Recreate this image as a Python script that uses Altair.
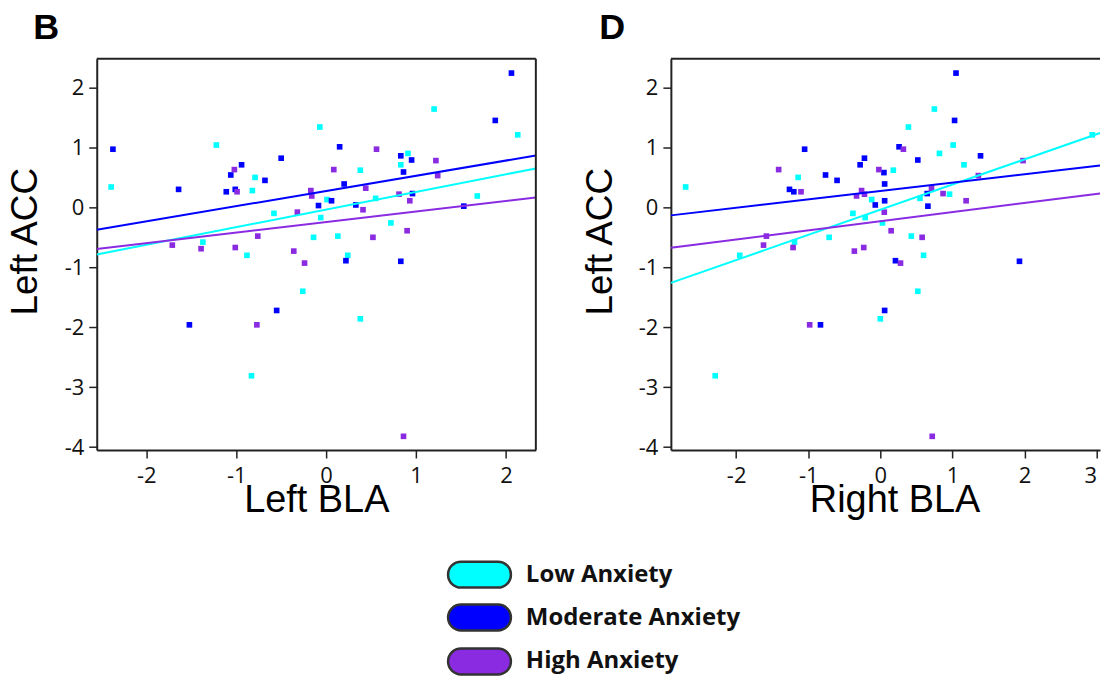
import altair as alt
import pandas as pd

# Anxiety groups and their colours
groups = ["Low Anxiety", "Moderate Anxiety", "High Anxiety"]
palette = ["#00FFFF", "#0000FF", "#8A2BE2"]
panel_letters = ["B", "D"]

# Panel B: Left BLA (x) vs Left ACC (y)
left_low_x = [-2.39, -1.37, -1.22, -0.88, -0.83, -0.82, -0.79, -0.58, -0.26, -0.14, -0.07, -0.06,
              0.01, 0.13, 0.24, 0.38, 0.38, 0.55, 0.72, 0.83, 0.91, 1.20, 1.68, 2.13]
left_low_y = [0.34, -0.58, 1.04, -0.80, -2.81, 0.28, 0.50, -0.10, -1.40, -0.50, 1.34, -0.17,
              0.13, -0.48, -0.80, 0.62, -1.86, 0.15, -0.26, 0.71, 0.90, 1.64, 0.19, 1.21]
left_mod_x = [-2.37, -1.64, -1.52, -1.11, -1.06, -1.01, -0.94, -0.68, -0.50, -0.55, -0.085, 0.06,
              0.15, 0.20, 0.22, 0.33, 0.83, 0.86, 0.83, 0.95, 0.96, 1.53, 1.88, 2.06]
left_mod_y = [0.97, 0.30, -1.96, 0.26, 0.54, 0.30, 0.71, 0.45, 0.82, -1.72, 0.03, 0.11,
              1.01, 0.39, -0.89, 0.04, 0.86, 0.59, -0.90, 0.79, 0.23, 0.02, 1.45, 2.24]
left_high_x = [-1.71, -1.39, -1.02, -0.99, -1.01, -0.76, -0.77, -0.36, -0.32, -0.24, -0.17, -0.16,
               0.085, 0.41, 0.44, 0.52, 0.56, 0.81, 0.86, 0.90, 0.93, 1.22, 1.24]
left_high_y = [-0.63, -0.69, 0.63, 0.26, -0.67, -0.48, -1.96, -0.73, -0.08, -0.93, 0.28, 0.19,
               0.63, -0.04, 0.32, -0.50, 0.97, 0.22, -3.82, -0.39, 0.11, 0.78, 0.53]
left_fit_intercept = [-0.036, 0.273, -0.245]
left_fit_slope = [0.294, 0.254, 0.176]

# Panel D: Right BLA (x) vs Left ACC (y)
right_low_x = [-2.70, -2.29, -1.95, -1.19, -1.14, -0.71, -0.38, -0.21, -0.12, 0.00, 0.03, 0.18,
               0.39, 0.43, 0.52, 0.55, 0.60, 0.75, 0.82, 0.96, 1.01, 1.16, 2.94]
right_low_y = [0.34, -2.81, -0.80, -0.58, 0.50, -0.50, -0.10, -0.17, 0.13, -1.86, -0.26, 0.62,
               1.34, -0.48, -1.40, 0.15, -0.80, 1.64, 0.90, 0.22, 1.04, 0.71, 1.21]
right_mod_x = [-1.26, -1.20, -1.05, -0.83, -0.76, -0.60, -0.28, -0.22, -0.07, 0.05, 0.06, 0.06,
               0.06, 0.21, 0.26, 0.52, 0.65, 0.66, 1.03, 1.05, 1.39, 1.93]
right_mod_y = [0.30, 0.26, 0.97, -1.96, 0.54, 0.45, 0.71, 0.82, 0.04, 0.58, 0.39, 0.11,
               -1.72, -0.89, 1.01, 0.79, 0.23, 0.02, 1.45, 2.24, 0.86, -0.90]
right_high_x = [-1.62, -1.58, -1.41, -1.21, -1.10, -0.98, -0.36, -0.33, -0.26, -0.22, -0.23, -0.02,
                0.055, 0.15, 0.28, 0.32, 0.58, 0.71, 0.72, 0.87, 1.19, 1.36, 1.98]
right_high_y = [-0.63, -0.48, 0.63, -0.67, 0.26, -1.96, -0.73, 0.19, 0.28, 0.22, -0.67, 0.63,
                -0.08, -0.39, -0.93, 0.97, -0.50, 0.32, -3.82, 0.23, 0.11, 0.53, 0.78]
right_fit_intercept = [-0.04, 0.273, -0.232]
right_fit_slope = [0.42, 0.14, 0.152]

y_ticks = [-4, -3, -2, -1, 0, 1, 2]
y_domain = [-4.048, 2.479]
left_x_ticks = [-2, -1, 0, 1, 2]
left_x_domain = [-2.55, 2.331]
right_x_ticks = [-2, -1, 0, 1, 2, 3]
right_x_domain = [-2.905, 3.047]

PLOT_H = 392.3
LEFT_W = 440.3
RIGHT_W = 430.3
INK = "#222222"

color_scale = alt.Scale(domain=groups, range=palette)


def points_frame(xs_list, ys_list):
    rows = []
    for g, xs, ys in zip(groups, xs_list, ys_list):
        for xv, yv in zip(xs, ys):
            rows.append({"group": g, "x": xv, "y": yv})
    return pd.DataFrame(rows)


def fit_frame(intercepts, slopes, x_domain):
    rows = []
    for g, a, b in zip(groups, intercepts, slopes):
        for xv in x_domain:
            rows.append({"group": g, "x": xv, "y": a + b * xv})
    return pd.DataFrame(rows)


def panel(pts, fits, x_domain, x_ticks, x_title, width, letter, letter_x,
          flush, framed, with_legend):
    x_enc = alt.X(
        "x:Q",
        scale=alt.Scale(domain=x_domain, nice=False, zero=False),
        axis=alt.Axis(
            values=x_ticks, title=x_title, labelExpr="'' + datum.value",
            grid=False, domainColor=INK, domainWidth=2, tickColor=INK, tickWidth=1.5,
            tickSize=8, labelPadding=8, labelFont="Open Sans", labelFontSize=22,
            labelColor="#111111", labelFlush=flush,
            titleFont="Liberation Sans", titleFontSize=38, titleFontWeight="normal",
            titleColor="#000000", titleBaseline="alphabetic", titleAlign="center",
            titleX=(896 - 671.7) if not framed else width / 2, titleY=62,
        ),
    )
    y_enc = alt.Y(
        "y:Q",
        scale=alt.Scale(domain=y_domain, nice=False, zero=False),
        axis=alt.Axis(
            values=y_ticks, title="Left ACC", labelExpr="'' + datum.value",
            grid=False, domainColor=INK, domainWidth=2, tickColor=INK, tickWidth=1.5,
            tickSize=8, labelPadding=5, labelFont="Open Sans", labelFontSize=22,
            labelColor="#111111",
            titleFont="Liberation Sans", titleFontSize=37, titleFontWeight="normal",
            titleColor="#000000", titleBaseline="alphabetic", titleAlign="center",
            titleX=-60, titleY=183,
        ),
    )
    color = alt.Color("group:N", scale=color_scale, legend=None)

    dots = alt.Chart(pts).mark_square(size=32, opacity=1).encode(x=x_enc, y=y_enc, color=color)
    lines = alt.Chart(fits).mark_line(strokeWidth=2, clip=True).encode(
        x="x:Q", y="y:Q", color=color, detail="group:N"
    )
    tag = alt.Chart(pd.DataFrame({"t": [letter]})).mark_text(
        align="left", baseline="alphabetic", font="Liberation Sans", fontSize=36,
        fontWeight="bold", color="#000000"
    ).encode(x=alt.value(letter_x), y=alt.value(-19.7), text="t:N")
    top_edge = alt.Chart(pd.DataFrame({"t": [0]})).mark_rule(color=INK, strokeWidth=2).encode(
        x=alt.value(0), x2=alt.value(width), y=alt.value(0)
    )
    layers = [dots, lines, tag, top_edge]
    if framed:
        right_edge = alt.Chart(pd.DataFrame({"t": [0]})).mark_rule(color=INK, strokeWidth=2).encode(
            x=alt.value(width), y=alt.value(0), y2=alt.value(PLOT_H)
        )
        layers.append(right_edge)
    if with_legend:
        row_y = [517.3, 560.3, 604.3]
        for g, ry in zip(groups, row_y):
            df = pd.DataFrame({"group": [g]})
            key = alt.Chart(df).mark_rect(
                cornerRadius=13, stroke="#333333", strokeWidth=2.5
            ).encode(
                x=alt.value(352.3), x2=alt.value(415.3),
                y=alt.value(ry - 13), y2=alt.value(ry + 13),
                color=color,
            )
            label = alt.Chart(df).mark_text(
                align="left", baseline="middle", font="Open Sans", fontSize=24,
                fontWeight="bold", color="#111111"
            ).encode(x=alt.value(430.3), y=alt.value(ry), text="group:N")
            layers += [key, label]
    return alt.layer(*layers).properties(
        width=width, height=PLOT_H, view=alt.ViewBackground(stroke="transparent")
    )


left = panel(
    points_frame([left_low_x, left_mod_x, left_high_x], [left_low_y, left_mod_y, left_high_y]),
    fit_frame(left_fit_intercept, left_fit_slope, left_x_domain),
    left_x_domain, left_x_ticks, "Left BLA", LEFT_W, panel_letters[0], -63.7,
    False, True, True,
)
right = panel(
    points_frame([right_low_x, right_mod_x, right_high_x], [right_low_y, right_mod_y, right_high_y]),
    fit_frame(right_fit_intercept, right_fit_slope, right_x_domain),
    right_x_domain, right_x_ticks, "Right BLA", RIGHT_W, panel_letters[1], -71.7,
    6, False, False,
)

chart = alt.hconcat(left, right, spacing=134.7, bounds="flush").properties(
    padding={"left": 6, "top": 8, "right": 0, "bottom": 0},
    background="white",
)

chart.save("out.html", embed_options={"renderer": "svg", "actions": False})
